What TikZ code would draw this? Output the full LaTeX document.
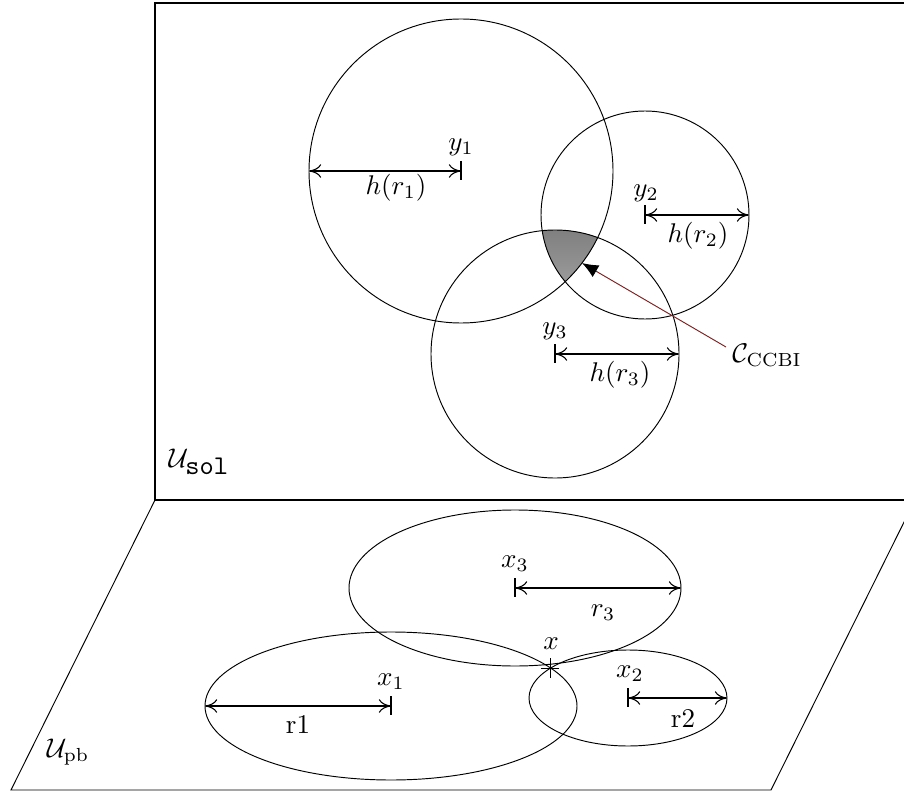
\documentclass[tikz,border=0pt]{standalone}
\usetikzlibrary{arrows.meta,calc}
\definecolor{ccbired}{RGB}{125,35,35}
\definecolor{shade}{RGB}{125,125,125}
\begin{document}
\begin{tikzpicture}[x=0.013cm,y=-0.013cm,
  line width=0.35pt,
  dim/.style={{To[length=4.5pt,width=5pt]}-{To[length=4.5pt,width=5pt]}, line width=0.4pt},
  tick/.style={line width=0.4pt},
  lbl/.style={inner sep=0pt}]
\useasboundingbox (0,0) rectangle (904,796);
\clip (0,0) rectangle (904,796);
% panels
\draw[line width=0.5pt] (1000,3) -- (155,3) -- (155,500) -- (1000,500);
\coordinate (p1) at (155,500);
\coordinate (p2) at (11,790);
\coordinate (p3) at (771,790);
\coordinate (p4) at (915,500);
\draw (p1) -- (p2) -- (p3) -- (p4);
% centres
\coordinate (c1) at (461,171);
\coordinate (c2) at (645,215);
\coordinate (c3) at (555,354);
\coordinate (e1) at (309,171);
\coordinate (e2) at (749,215);
\coordinate (e3) at (679,354);
% shaded intersection
\begin{scope}
\clip (c1) circle[radius=152];
\clip (c2) circle[radius=104];
\fill[shade] (c3) circle[radius=124];
\end{scope}
\draw (c1) circle[radius=152];
\draw (c2) circle[radius=104];
\draw (c3) circle[radius=124];
% radii
\draw[dim] (e1) -- (c1);
\draw[tick] ($(c1)+(0,-10)$) -- ($(c1)+(0,9)$);
\draw[dim] (c2) -- (e2);
\draw[tick] ($(c2)+(0,-10)$) -- ($(c2)+(0,9)$);
\draw[dim] (c3) -- (e3);
\draw[tick] ($(c3)+(0,-10)$) -- ($(c3)+(0,9)$);
\node[lbl] (ly1) at (461,147) {$y_1$};
\node[lbl] (lh1) at (396,188) {$h(r_1)$};
\node[lbl] (ly2) at (646,193) {$y_2$};
\node[lbl] (lh2) at (698,236) {$h(r_2)$};
\node[lbl] (ly3) at (555,331) {$y_3$};
\node[lbl] (lh3) at (620,375) {$h(r_3)$};
% CCBI
\node[lbl,anchor=west] (ccbi) at (732,355) {$\mathcal{C}_{\mathrm{CCBI}}$};
\coordinate (ccbitip) at (582,263);
\draw[ccbired,-{Latex[black,length=6pt,width=5pt]}] (ccbi.west) ++(-6,-8) -- (ccbitip);
\node[lbl] (usol) at (199,462) {$\mathcal{U}_{\texttt{sol}}$};
% bottom ellipses
\coordinate (x1) at (391,706);
\coordinate (x2) at (628,698);
\coordinate (x3) at (515,588);
\coordinate (f1) at (205,706);
\coordinate (f2) at (727,698);
\coordinate (f3) at (681,588);
\draw (x1) ellipse[x radius=186,y radius=74];
\draw (x2) ellipse[x radius=99,y radius=48];
\draw (x3) ellipse[x radius=166,y radius=78];
\draw[dim] (f1) -- (x1);
\draw[tick] ($(x1)+(0,-10)$) -- ($(x1)+(0,9)$);
\draw[dim] (x2) -- (f2);
\draw[tick] ($(x2)+(0,-10)$) -- ($(x2)+(0,9)$);
\draw[dim] (x3) -- (f3);
\draw[tick] ($(x3)+(0,-10)$) -- ($(x3)+(0,9)$);
\coordinate (xp) at (550,668);
\draw (xp) ++(-9,0) -- ++(18,0);
\draw (xp) ++(0,-10) -- ++(0,20);
\node[lbl] (lx) at (551,644) {$x$};
\node[lbl] (lx1) at (391,682) {$x_1$};
\node[lbl] (lr1) at (298,724) {r1};
\node[lbl] (lx2) at (630,674) {$x_2$};
\node[lbl] (lr2) at (683,718) {r2};
\node[lbl] (lx3) at (515,564) {$x_3$};
\node[lbl] (lr3) at (603,613) {$r_3$};
\node[lbl] (upb) at (68,752) {$\mathcal{U}_{\mathrm{pb}}$};
\end{tikzpicture}
\end{document}
